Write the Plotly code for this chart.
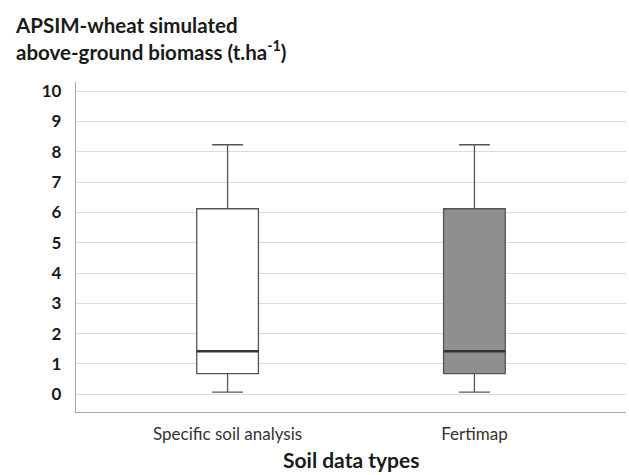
import plotly.graph_objects as go

categories = ["Specific soil analysis", "Fertimap"]
lower_whisker = [0.07, 0.07]
q1 = [0.68, 0.68]
median = [1.42, 1.42]
q3 = [6.12, 6.12]
upper_whisker = [8.23, 8.23]
fills = ["#ffffff", "#8f8f8f"]
y_ticks = list(range(0, 11))

fig = go.Figure()
for i, cat in enumerate(categories):
    fig.add_trace(go.Box(
        x=[i], q1=[q1[i]], median=[median[i]], q3=[q3[i]],
        lowerfence=[lower_whisker[i]], upperfence=[upper_whisker[i]],
        fillcolor=fills[i], line=dict(color="#555555", width=1.3),
        width=0.25, whiskerwidth=0.5, boxpoints=False, showlegend=False,
        hoverinfo="skip",
    ))
    # emphasize the median line
    fig.add_trace(go.Scatter(
        x=[i - 0.125, i + 0.125], y=[median[i], median[i]], mode="lines",
        line=dict(color="#333333", width=2.3), showlegend=False, hoverinfo="skip",
    ))

fig.add_annotation(
    text="APSIM-wheat simulated<br>above-ground biomass (t.ha<sup>-1</sup>)",
    xref="paper", yref="paper", x=-0.115, y=1.214, xanchor="left", yanchor="top",
    align="left", showarrow=False,
    font=dict(size=20.5, family="Lato, sans-serif", weight="bold", color="#1a1a1a"),
)
fig.add_annotation(
    text="Soil data types", xref="paper", yref="paper", x=0.5, y=-0.1,
    xanchor="center", yanchor="top", showarrow=False,
    font=dict(size=21, family="Lato, sans-serif", weight="bold", color="#1a1a1a"),
)

fig.update_layout(
    width=629, height=475,
    margin=dict(l=76, r=3, t=82, b=63, autoexpand=False),
    paper_bgcolor="white", plot_bgcolor="white",
    font=dict(family="Lato, 'Open Sans', sans-serif", color="#1a1a1a"),
    xaxis=dict(
        range=[-0.614, 1.614], tickmode="array", tickvals=[0, 1], ticktext=categories,
        showgrid=False, zeroline=False, showline=True, linecolor="#a6a6a6", linewidth=1.3,
        ticks="", tickfont=dict(size=17, color="#333333"), automargin=False,
        ticklabelstandoff=6,
    ),
    yaxis=dict(
        range=[-0.584, 10.3], tickmode="array", tickvals=y_ticks,
        showgrid=True, gridcolor="#dcdcdc", gridwidth=1.2, zeroline=False,
        showline=True, linecolor="#a6a6a6", linewidth=1.3, ticks="",
        ticklabelstandoff=10, automargin=False,
        tickfont=dict(size=17, weight="bold", color="#1a1a1a"),
    ),
)

fig.write_html("out.html", config={"displayModeBar": False},
               post_script="document.body.style.margin='0';")
